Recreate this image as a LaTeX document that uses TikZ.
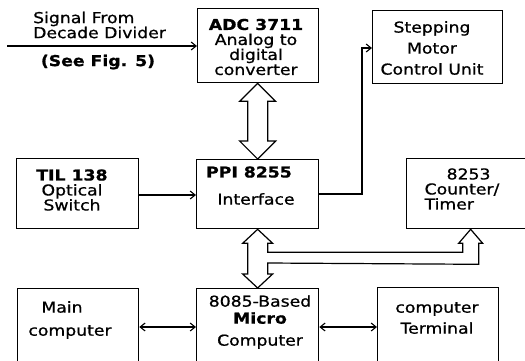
\documentclass[tikz,border=0pt]{standalone}
\usepackage{fontspec}
\setmainfont{DejaVu Sans}[FakeStretch=1.15, FakeBold=0.8]
\usetikzlibrary{arrows.meta,calc}
\begin{document}
\begin{tikzpicture}[x=1pt,y=-1pt,
  every node/.style={font=\fontsize{15}{15}\selectfont},
  box/.style={draw,line width=1.3pt,inner sep=0pt,anchor=north west},
  txt/.style={align=center,inner sep=0pt},
  wire/.style={line width=1.2pt},
  tip/.style={-{Straight Barb[length=5pt,width=8pt,line width=1.1pt]}},
  dtip/.style={{Straight Barb[length=5pt,width=8pt,line width=1.1pt]}-{Straight Barb[length=5pt,width=8pt,line width=1.1pt]}},
  bus/.style={line width=1.2pt,line join=miter}]
\useasboundingbox (0,0) rectangle (525,360);
\clip (0,0) rectangle (525,360);
\fill[white] (0,0) rectangle (525,360);
% boxes
\node[box,minimum width=121pt,minimum height=74pt] (adc) at (197,8) {};
\node[box,minimum width=130pt,minimum height=73pt] (step) at (372,10) {};
\node[box,minimum width=122pt,minimum height=70pt] (til) at (16,158) {};
\node[box,minimum width=122pt,minimum height=69pt] (ppi) at (196,159) {};
\node[box,minimum width=128pt,minimum height=70pt] (ctr) at (406,158) {};
\node[box,minimum width=121pt,minimum height=85pt] (main) at (17,288) {};
\node[box,minimum width=122pt,minimum height=85pt] (mc) at (196,288) {};
\node[box,minimum width=121pt,minimum height=85pt] (term) at (377,287) {};
% texts
\node[txt] (adct) at (256,47) {\textbf{ADC 3711}\\Analog to\\digital\\converter};
\node[txt] (stept) at (432,48) {Stepping\\[6pt]Motor\\[6pt]Control Unit};
\node[txt] (tilt) at (72,190) {\textbf{TIL 138}\\Optical\\Switch};
\node[txt] (ppit1) at (249,172) {\textbf{PPI 8255}};
\node[txt] (ppit2) at (256,199) {Interface};
\node[txt,align=left] (ctrt) at (462,189) {\hspace*{22pt}8253\\Counter/\\Timer};
\node[txt] (maint1) at (62,307) {Main};
\node[txt] (maint2) at (70,332) {computer};
\node[txt] (mct) at (260,322) {8085-Based\\[2pt]\textbf{Micro}\hspace*{36pt}\\[7pt]Computer};
\node[txt] (termt) at (437,318) {computer\\[6pt]Terminal};
\node[txt,align=left,anchor=west] (sigt) at (33,25) {Signal From\\Decade Divider};
\node[txt] (seet) at (98,62) {\textbf{(See Fig. 5)}};
% connectors
\coordinate (sig) at (7,46);
\draw[wire,tip] (sig) -- (sig -| adc.west);
\draw[wire,tip] (til.east |- 0,195) -- (ppi.west |- 0,195);
\draw[wire,tip] (ppi.east |- 0,194) -| (362,48) -- (step.west |- 0,48);
\draw[wire,dtip] (main.east |- 0,327) -- (mc.west |- 0,327);
\draw[wire,dtip] (mc.east |- 0,327) -- (term.west |- 0,327);
% hollow bus arrow ADC <-> PPI
\coordinate (T) at (adc.south -| ppi.north);
\coordinate (B) at (ppi.north);
\draw[bus] (T) -- ($(T)+(-18,18)$) -- ($(T)+(-10,18)$) -- ($(B)+(-10,-18)$) -- ($(B)+(-18,-18)$) -- (B)
  -- ($(B)+(18,-18)$) -- ($(B)+(10,-18)$) -- ($(T)+(10,18)$) -- ($(T)+(18,18)$) -- cycle;
% hollow bus PPI <-> 8085 with branch to 8253
\coordinate (T2) at (ppi.south);
\coordinate (B2) at (mc.north);
\coordinate (C) at (ctr.south);
\draw[bus] (T2) -- ($(T2)+(-15,14)$) -- ($(T2)+(-10,14)$) -- ($(B2)+(-10,-14)$) -- ($(B2)+(-15,-14)$) -- (B2)
  -- ($(B2)+(15,-14)$) -- ($(B2)+(10,-14)$) -- ($(B2)+(10,-25)$) -- ($(C)+(8,35)$) -- ($(C)+(8,14)$)
  -- ($(C)+(12,14)$) -- (C) -- ($(C)+(-12,14)$) -- ($(C)+(-8,14)$) -- ($(C)+(-8,23)$)
  -- ($(T2)+(10,23)$) -- ($(T2)+(10,14)$) -- ($(T2)+(15,14)$) -- cycle;
\end{tikzpicture}
\end{document}
